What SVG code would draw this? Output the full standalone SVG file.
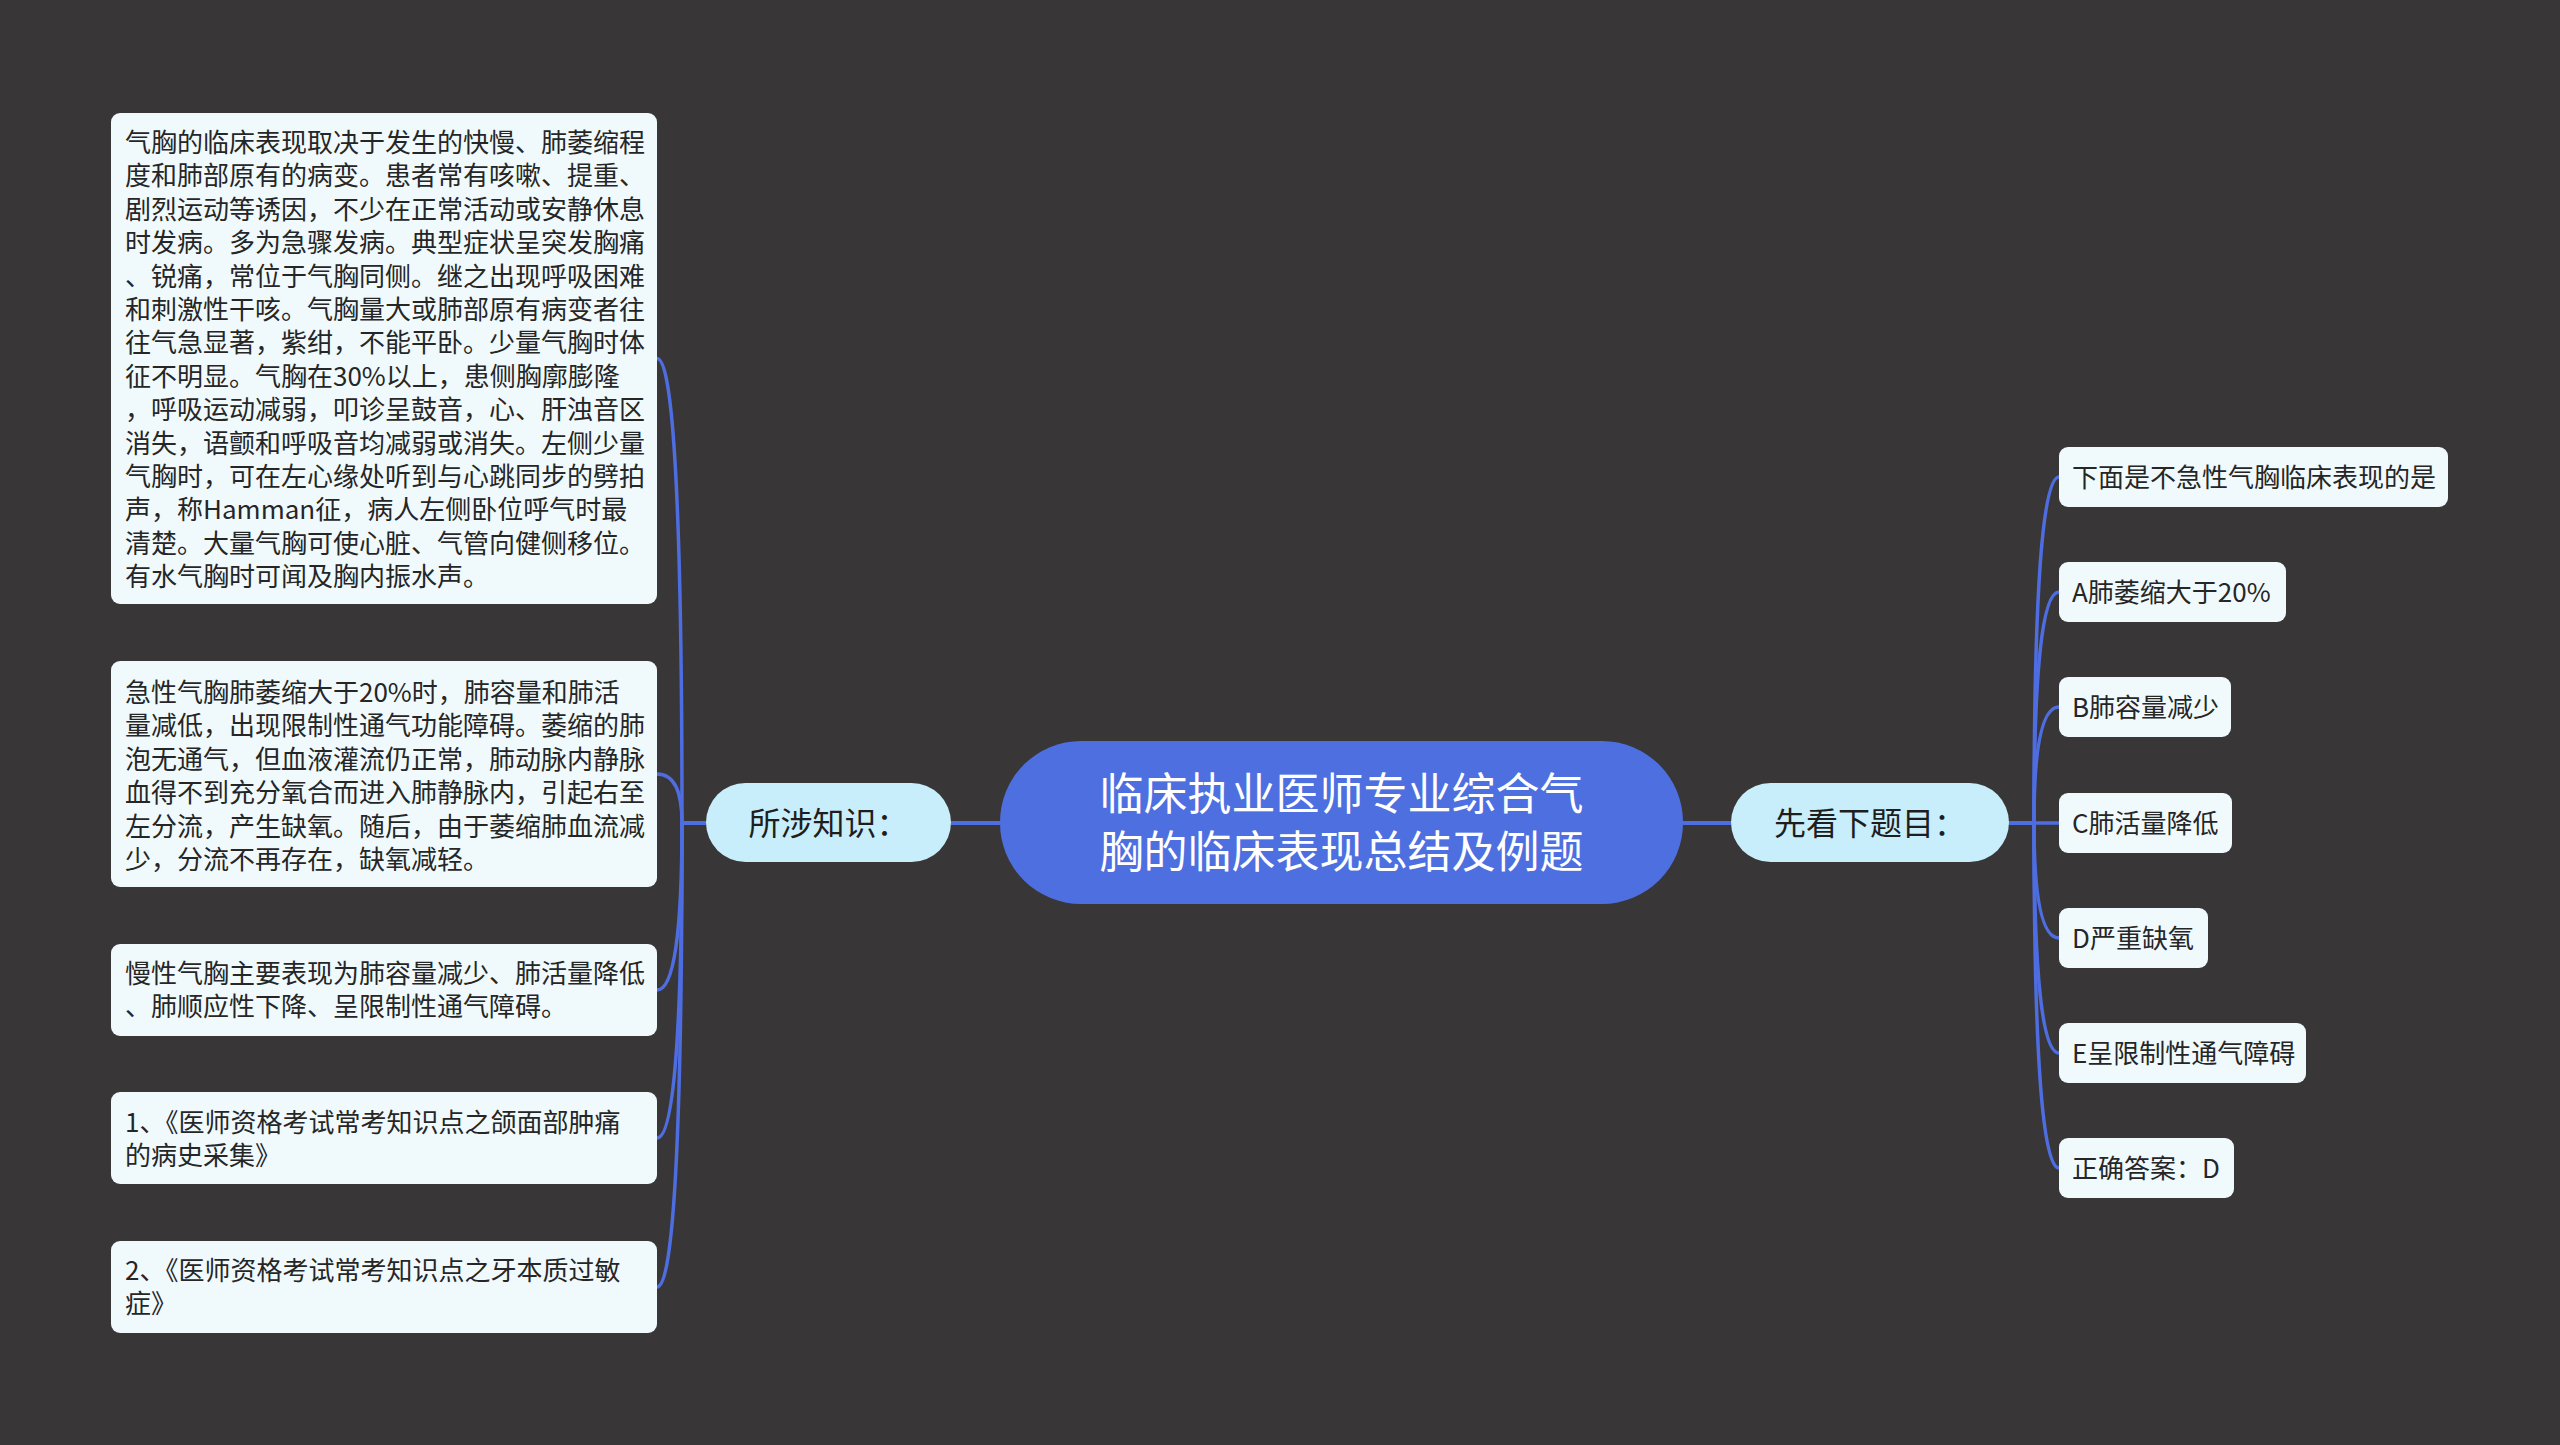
<svg xmlns="http://www.w3.org/2000/svg" width="2560" height="1445" viewBox="0 0 2560 1445">
<defs>
<style>
.bg{fill:#383637}
.leaf{fill:#f0fafd}
.sub{fill:#c9eefb}
.root{fill:#4e6fe0}
.lt{font-family:"Noto Sans CJK SC","Noto Sans",sans-serif;font-size:26px;fill:#262626}
.st{font-family:"Noto Sans CJK SC","Noto Sans",sans-serif;font-size:32px;fill:#1e1e1e;text-anchor:middle}
.rt{font-family:"Noto Sans CJK SC","Noto Sans",sans-serif;font-size:44px;fill:#ffffff;text-anchor:middle}
.cn{fill:none;stroke:#4e6de0;stroke-width:3.5;stroke-linecap:round}
.cm{fill:none;stroke:#4e6de0;stroke-width:4}
</style>
</defs>
<rect class="bg" x="0" y="0" width="2560" height="1445"/>

<g id="connectors">
<path class="cm" d="M951 823 H1000"/>
<path class="cm" d="M1683 823 H1731"/>
<path class="cm" d="M706 823 H682"/>
<path class="cm" d="M2009 823 H2034"/>
<path class="cn" d="M682 823 Q682 358.5 657 358.5"/>
<path class="cn" d="M682 823 Q682 774 657 774"/>
<path class="cn" d="M682 823 Q682 990 657 990"/>
<path class="cn" d="M682 823 Q682 1138 657 1138"/>
<path class="cn" d="M682 823 Q682 1287 657 1287"/>
<path class="cn" d="M2034 823 Q2034 477 2059 477"/>
<path class="cn" d="M2034 823 Q2034 592 2059 592"/>
<path class="cn" d="M2034 823 Q2034 707 2059 707"/>
<path class="cn" d="M2034 823 H2059"/>
<path class="cn" d="M2034 823 Q2034 938 2059 938"/>
<path class="cn" d="M2034 823 Q2034 1053 2059 1053"/>
<path class="cn" d="M2034 823 Q2034 1168 2059 1168"/>
</g>

<g id="root">
<rect class="root" x="1000" y="741" width="683" height="163" rx="81" ry="81"/>
<text class="rt" x="1341.5" y="810">临床执业医师专业综合气</text>
<text class="rt" x="1341.5" y="868">胸的临床表现总结及例题</text>
</g>

<g id="knowledge">
<rect class="sub" x="706" y="783" width="245" height="79" rx="39.5" ry="39.5"/>
<text class="st" x="828.5" y="834.5">所涉知识：</text>
</g>

<g id="question">
<rect class="sub" x="1731" y="783" width="278" height="79" rx="39.5" ry="39.5"/>
<text class="st" x="1870" y="834.5">先看下题目：</text>
</g>

<g id="k1">
<rect class="leaf" x="111" y="113" width="546" height="491" rx="9"/>
<text class="lt" y="152">
<tspan x="125">气胸的临床表现取决于发生的快慢、肺萎缩程</tspan>
<tspan x="125" dy="33.4">度和肺部原有的病变。患者常有咳嗽、提重、</tspan>
<tspan x="125" dy="33.4">剧烈运动等诱因，不少在正常活动或安静休息</tspan>
<tspan x="125" dy="33.4">时发病。多为急骤发病。典型症状呈突发胸痛</tspan>
<tspan x="125" dy="33.4">、锐痛，常位于气胸同侧。继之出现呼吸困难</tspan>
<tspan x="125" dy="33.4">和刺激性干咳。气胸量大或肺部原有病变者往</tspan>
<tspan x="125" dy="33.4">往气急显著，紫绀，不能平卧。少量气胸时体</tspan>
<tspan x="125" dy="33.4">征不明显。气胸在30%以上，患侧胸廓膨隆</tspan>
<tspan x="125" dy="33.4">，呼吸运动减弱，叩诊呈鼓音，心、肝浊音区</tspan>
<tspan x="125" dy="33.4">消失，语颤和呼吸音均减弱或消失。左侧少量</tspan>
<tspan x="125" dy="33.4">气胸时，可在左心缘处听到与心跳同步的劈拍</tspan>
<tspan x="125" dy="33.4">声，称Hamman征，病人左侧卧位呼气时最</tspan>
<tspan x="125" dy="33.4">清楚。大量气胸可使心脏、气管向健侧移位。</tspan>
<tspan x="125" dy="33.4">有水气胸时可闻及胸内振水声。</tspan>
</text>
</g>

<g id="k2">
<rect class="leaf" x="111" y="661" width="546" height="226" rx="9"/>
<text class="lt" y="702">
<tspan x="125">急性气胸肺萎缩大于20%时，肺容量和肺活</tspan>
<tspan x="125" dy="33.4">量减低，出现限制性通气功能障碍。萎缩的肺</tspan>
<tspan x="125" dy="33.4">泡无通气，但血液灌流仍正常，肺动脉内静脉</tspan>
<tspan x="125" dy="33.4">血得不到充分氧合而进入肺静脉内，引起右至</tspan>
<tspan x="125" dy="33.4">左分流，产生缺氧。随后，由于萎缩肺血流减</tspan>
<tspan x="125" dy="33.4">少，分流不再存在，缺氧减轻。</tspan>
</text>
</g>

<g id="k3">
<rect class="leaf" x="111" y="944" width="546" height="92" rx="9"/>
<text class="lt" y="983">
<tspan x="125">慢性气胸主要表现为肺容量减少、肺活量降低</tspan>
<tspan x="125" dy="33.4">、肺顺应性下降、呈限制性通气障碍。</tspan>
</text>
</g>

<g id="k4">
<rect class="leaf" x="111" y="1092" width="546" height="92" rx="9"/>
<text class="lt" y="1131.5">
<tspan x="125">1、《医师资格考试常考知识点之颌面部肿痛</tspan>
<tspan x="125" dy="33.4">的病史采集》</tspan>
</text>
</g>

<g id="k5">
<rect class="leaf" x="111" y="1241" width="546" height="92" rx="9"/>
<text class="lt" y="1280">
<tspan x="125">2、《医师资格考试常考知识点之牙本质过敏</tspan>
<tspan x="125" dy="33.4">症》</tspan>
</text>
</g>

<g id="q0">
<rect class="leaf" x="2059" y="447" width="389" height="60" rx="9"/>
<text class="lt" x="2072" y="486.5">下面是不急性气胸临床表现的是</text>
</g>
<g id="qA">
<rect class="leaf" x="2059" y="562" width="227" height="60" rx="9"/>
<text class="lt" x="2072" y="601.5">A肺萎缩大于20%</text>
</g>
<g id="qB">
<rect class="leaf" x="2059" y="677" width="172" height="60" rx="9"/>
<text class="lt" x="2072" y="716.5">B肺容量减少</text>
</g>
<g id="qC">
<rect class="leaf" x="2059" y="793" width="173" height="60" rx="9"/>
<text class="lt" x="2072" y="832.5">C肺活量降低</text>
</g>
<g id="qD">
<rect class="leaf" x="2059" y="908" width="149" height="60" rx="9"/>
<text class="lt" x="2072" y="947.5">D严重缺氧</text>
</g>
<g id="qE">
<rect class="leaf" x="2059" y="1023" width="247" height="60" rx="9"/>
<text class="lt" x="2072" y="1062.5">E呈限制性通气障碍</text>
</g>
<g id="qAns">
<rect class="leaf" x="2059" y="1138" width="175" height="60" rx="9"/>
<text class="lt" x="2072" y="1177.5">正确答案：D</text>
</g>
</svg>
